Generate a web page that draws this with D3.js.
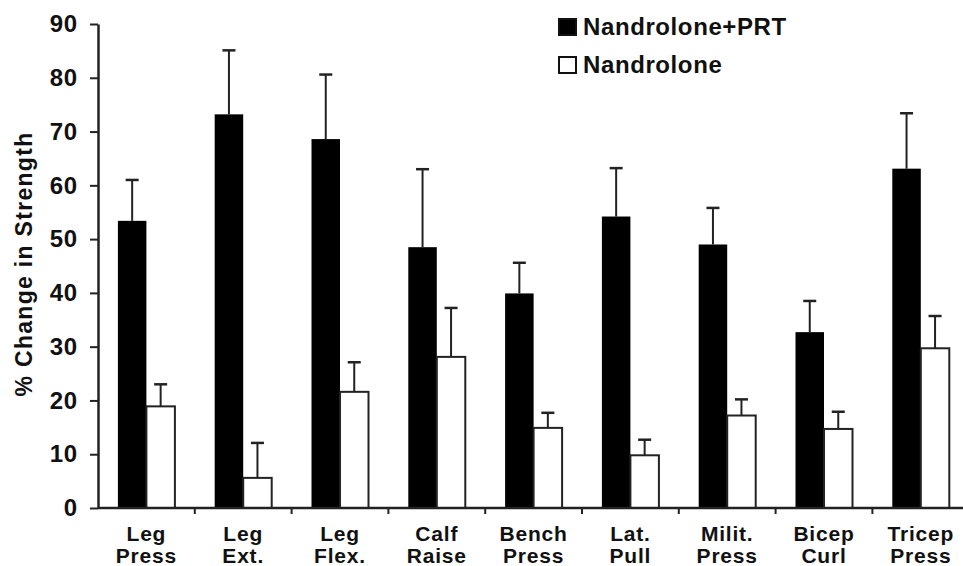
<!DOCTYPE html>
<html>
<head>
<meta charset="utf-8">
<script src="https://cdn.jsdelivr.net/npm/d3@7"></script>
<style>
  body { margin: 0; background: #fff; }
  svg { display: block; }
  text { font-family: "Liberation Sans", Arial, sans-serif; font-weight: bold; fill: #111; }
</style>
</head>
<body>
<svg id="chart" width="963" height="566"></svg>
<script>
// data
var exercises = [["Leg", "Press"], ["Leg", "Ext."], ["Leg", "Flex."], ["Calf", "Raise"], ["Bench", "Press"],
                 ["Lat.", "Pull"], ["Milit.", "Press"], ["Bicep", "Curl"], ["Tricep", "Press"]];
var seriesNames = ["Nandrolone+PRT", "Nandrolone"];
var prtMean = [53.4, 73.2, 68.6, 48.5, 39.9, 54.2, 49.0, 32.7, 63.1];
var prtErr  = [7.6, 11.9, 12.0, 14.5, 5.7, 9.0, 6.8, 5.8, 10.3];
var nanMean = [18.9, 5.6, 21.6, 28.1, 14.9, 9.8, 17.2, 14.7, 29.7];
var nanErr  = [4.1, 6.5, 5.5, 9.1, 2.8, 2.9, 3.0, 3.2, 6.0];
var yTicks = [0, 10, 20, 30, 40, 50, 60, 70, 80, 90];

var svg = d3.select("#chart");
var left = 98, bottom = 508, topY = 24, band = 96.8;
var keys = exercises.map(function(d){ return d.join(" "); });

var x = d3.scaleBand().domain(keys).range([left, left + band * keys.length]);
var y = d3.scaleLinear().domain([0, 90]).range([bottom, topY]);
var barW = 28.5;

var series = [
  {name: seriesNames[0], mean: prtMean, err: prtErr, fill: "#000", off: -barW},
  {name: seriesNames[1], mean: nanMean, err: nanErr, fill: "#fff", off: 0}
];

// error bars (upper only)
series.forEach(function(s){
  var g = svg.append("g");
  keys.forEach(function(k, i){
    var cx = x(k) + x.bandwidth() / 2 + s.off + barW / 2;
    g.append("line")
      .attr("x1", cx).attr("x2", cx)
      .attr("y1", y(s.mean[i])).attr("y2", y(s.mean[i] + s.err[i]))
      .attr("stroke", "#222").attr("stroke-width", 2);
    g.append("line")
      .attr("x1", cx - 6.5).attr("x2", cx + 6.5)
      .attr("y1", y(s.mean[i] + s.err[i])).attr("y2", y(s.mean[i] + s.err[i]))
      .attr("stroke", "#222").attr("stroke-width", 2.5);
  });
});

// bars
series.forEach(function(s){
  svg.append("g").selectAll("rect")
    .data(keys)
    .join("rect")
    .attr("x", function(k){ return x(k) + x.bandwidth() / 2 + s.off; })
    .attr("y", function(k, i){ return y(s.mean[i]); })
    .attr("width", barW)
    .attr("height", function(k, i){ return bottom - y(s.mean[i]); })
    .attr("fill", s.fill)
    .attr("stroke", s.fill == "#fff" ? "#222" : "none")
    .attr("stroke-width", 2);
});

// y axis
var yAxis = svg.append("g")
  .attr("transform", "translate(" + left + ",0)")
  .call(d3.axisLeft(y).tickValues(yTicks).tickSize(8).tickSizeOuter(0).tickPadding(12));
yAxis.select(".domain").attr("stroke", "#222").attr("stroke-width", 2.5);
yAxis.selectAll(".tick line").attr("stroke", "#222").attr("stroke-width", 2);
yAxis.selectAll("text").attr("font-size", 24).attr("letter-spacing", 0.8).attr("fill", "#111")
  .style("font-family", "'Liberation Sans', Arial, sans-serif").style("font-weight", "bold");

// x axis: ticks sit between the categories
var xAxis = svg.append("g").attr("transform", "translate(0," + bottom + ")");
xAxis.append("line")
  .attr("x1", left).attr("x2", left + band * keys.length)
  .attr("stroke", "#222").attr("stroke-width", 2.5);
xAxis.selectAll(".sep")
  .data(keys.slice(1))
  .join("line")
  .attr("x1", function(k){ return x(k); }).attr("x2", function(k){ return x(k); })
  .attr("y1", 0).attr("y2", 6)
  .attr("stroke", "#222").attr("stroke-width", 2);

var lab = svg.append("g").selectAll("text")
  .data(exercises)
  .join("text")
  .attr("text-anchor", "middle")
  .attr("font-size", 21)
  .attr("letter-spacing", 0.8)
  .attr("x", function(d){ return x(d.join(" ")) + x.bandwidth() / 2; });
lab.append("tspan").attr("y", 541).attr("x", function(d){ return x(d.join(" ")) + x.bandwidth() / 2; })
  .text(function(d){ return d[0]; });
lab.append("tspan").attr("y", 563).attr("x", function(d){ return x(d.join(" ")) + x.bandwidth() / 2; })
  .text(function(d){ return d[1]; });

// y title
svg.append("text")
  .attr("transform", "translate(32,264) rotate(-90)")
  .attr("text-anchor", "middle")
  .attr("font-size", 23)
  .attr("letter-spacing", 1.3)
  .text("% Change in Strength");

// legend
var leg = svg.append("g").selectAll("g")
  .data(series)
  .join("g")
  .attr("transform", function(d, i){ return "translate(558," + (18 + i * 38) + ")"; });
leg.append("rect")
  .attr("x", 1).attr("y", 1).attr("width", 17).attr("height", 16)
  .attr("fill", function(d){ return d.fill; })
  .attr("stroke", "#111").attr("stroke-width", 2);
leg.append("text")
  .attr("x", 25).attr("y", 17)
  .attr("font-size", 24)
  .attr("letter-spacing", 0.6)
  .text(function(d){ return d.name; });
</script>
</body>
</html>
